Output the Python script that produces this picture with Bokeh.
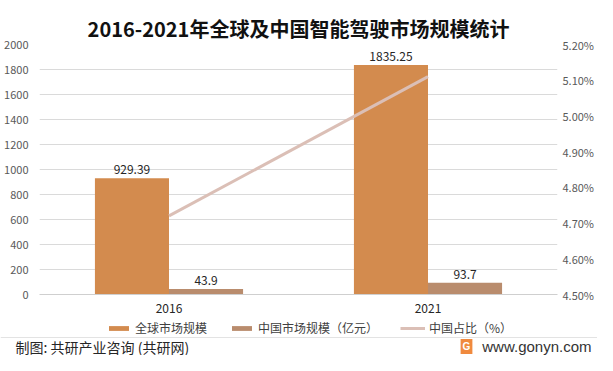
from bokeh.plotting import figure
from bokeh.layouts import column
from bokeh.models import (FactorRange, Range1d, LinearAxis, ColumnDataSource, LabelSet,
                          Legend, LegendItem, Label, CustomJSTickFormatter, FixedTicker, Span)
from bokeh.transform import dodge
from bokeh.core.properties import value
from bokeh.embed import file_html
from bokeh.resources import INLINE

# ---- data ----
years = ["2016", "2021"]
global_size = [929.39, 1835.25]
china_size = [43.9, 93.7]
china_share = [4.72, 5.11]
left_ticks = [0, 200, 400, 600, 800, 1000, 1200, 1400, 1600, 1800, 2000]
right_ticks = [4.5, 4.6, 4.7, 4.8, 4.9, 5.0, 5.1, 5.2]
title_text = "2016-2021年全球及中国智能驾驶市场规模统计"
series_names = ["全球市场规模", "中国市场规模（亿元）", "中国占比（%）"]
footer_left = "制图: 共研产业咨询 (共研网)"
footer_right = "www.gonyn.com"

FONT = "Noto Sans CJK SC"
C_GLOBAL = "#D38B4E"
C_CHINA = "#B98C6D"
C_SHARE = "#DBBFB6"

src = ColumnDataSource(dict(
    year=years, g=global_size, c=china_size, s=china_share,
    gl=[str(v) for v in global_size], cl=[str(v) for v in china_size],
))

# ---------------- main chart ----------------
p = figure(width=597, height=318, x_range=FactorRange(*years), y_range=Range1d(0, 2000),
           output_backend="svg", toolbar_location=None,
           min_border_left=39, min_border_right=39, min_border_top=44, min_border_bottom=24)
p.frame_align = False
p.extra_y_ranges = {"pct": Range1d(4.5, 5.2)}
p.outline_line_color = None
p.background_fill_color = "white"
p.border_fill_color = "white"

p.title.text = title_text
p.title.align = "center"
p.title.offset = 5
p.title.text_font = FONT
p.title.text_font_size = "20px"
p.title.text_font_style = "bold"
p.title.text_color = "#111111"
p.title.standoff = 4

ya = p.yaxis[0]
ya.ticker = FixedTicker(ticks=left_ticks)
ya.axis_line_color = None
ya.major_tick_line_color = None
ya.minor_tick_line_color = None
ya.major_tick_out = 0
ya.major_tick_in = 0
ya.minor_tick_out = 0
ya.major_label_text_font = FONT
ya.major_label_text_font_size = "11px"
ya.major_label_text_color = "#595959"
ya.major_label_standoff = 11

ra = LinearAxis(y_range_name="pct", ticker=FixedTicker(ticks=right_ticks),
                formatter=CustomJSTickFormatter(code="return tick.toFixed(2) + '%';"))
ra.axis_line_color = None
ra.major_tick_line_color = None
ra.minor_tick_line_color = None
ra.major_tick_out = 0
ra.major_tick_in = 0
ra.minor_tick_out = 0
ra.major_label_text_font = FONT
ra.major_label_text_font_size = "11px"
ra.major_label_text_color = "#595959"
ra.major_label_standoff = 5
p.add_layout(ra, "right")

xa = p.xaxis[0]
xa.axis_line_color = "#CFCFCF"
xa.major_tick_line_color = None
xa.minor_tick_line_color = None
xa.major_tick_out = 0
xa.major_tick_in = 0
xa.minor_tick_out = 0
xa.major_label_text_font = FONT
xa.major_label_text_font_size = "12px"
xa.major_label_text_color = "#262626"
xa.major_label_standoff = 9

p.xgrid.grid_line_color = None
p.ygrid.grid_line_color = "#DADADA"
p.ygrid.ticker = FixedTicker(ticks=left_ticks)

bw = 0.286
p.vbar(x=dodge("year", -bw / 2, range=p.x_range), top="g", width=bw, source=src,
       fill_color=C_GLOBAL, line_color=None)
p.vbar(x=dodge("year", bw / 2, range=p.x_range), top="c", width=bw, source=src,
       fill_color=C_CHINA, line_color=None)
p.line(x="year", y="s", source=src, y_range_name="pct", line_color=C_SHARE, line_width=3)

for col, lab, off in (("g", "gl", -bw / 2), ("c", "cl", bw / 2)):
    ls = LabelSet(x=dodge("year", off, range=p.x_range), y=col, text=lab, source=src,
                  text_align="center", text_baseline="bottom", y_offset=4,
                  text_font=value(FONT), text_font_size="12px", text_color="#262626")
    p.add_layout(ls)

# ---------------- legend + footer strip ----------------
f = figure(width=597, height=37, x_range=Range1d(0, 597), y_range=Range1d(0, 37),
           output_backend="svg", toolbar_location=None, x_axis_type=None, y_axis_type=None,
           min_border_left=0, min_border_right=0, min_border_top=0, min_border_bottom=0)
f.frame_align = False
f.outline_line_color = None
f.xgrid.grid_line_color = None
f.ygrid.grid_line_color = None
f.background_fill_color = "white"
f.border_fill_color = "white"

# legend proxies (hidden renderers that carry the series styles)
lg1 = f.vbar(x="g", top="g", width=1, source=src, fill_color=C_GLOBAL, line_color=None, visible=False)
lg2 = f.vbar(x="c", top="c", width=1, source=src, fill_color=C_CHINA, line_color=None, visible=False)
lg3 = f.line(x="g", y="s", source=src, line_color=C_SHARE, line_width=3, visible=False)
legend = Legend(items=[LegendItem(label=series_names[0], renderers=[lg1]),
                       LegendItem(label=series_names[1], renderers=[lg2]),
                       LegendItem(label=series_names[2], renderers=[lg3])],
                orientation="horizontal", location=(106, 19),
                glyph_width=25, glyph_height=6, label_height=16, label_standoff=4, spacing=22,
                margin=0, padding=1, border_line_color=None, background_fill_alpha=0,
                inactive_fill_alpha=0,
                label_text_font=FONT, label_text_font_size="12px", label_text_color="#404040")
f.add_layout(legend)

f.add_layout(Span(location=18, dimension="width", line_color="#E3E3E3", line_width=1))
f.add_layout(Label(x=15, y=9, text=footer_left, text_baseline="middle",
                   text_font=FONT, text_font_size="14px", text_color="#262626"))
f.add_layout(Label(x=591, y=9, text=footer_right, text_align="right", text_baseline="middle",
                   text_font="Liberation Sans", text_font_size="15px", text_color="#333333"))
f.add_layout(Label(x=466, y=9, text="G", text_align="center", text_baseline="middle",
                   text_font="Liberation Sans", text_font_size="10px", text_font_style="bold",
                   text_color="white", background_fill_color="#F08A3E", padding=2))

layout = column(p, f, spacing=0)
open("out.html", "w").write(file_html(layout, INLINE))
